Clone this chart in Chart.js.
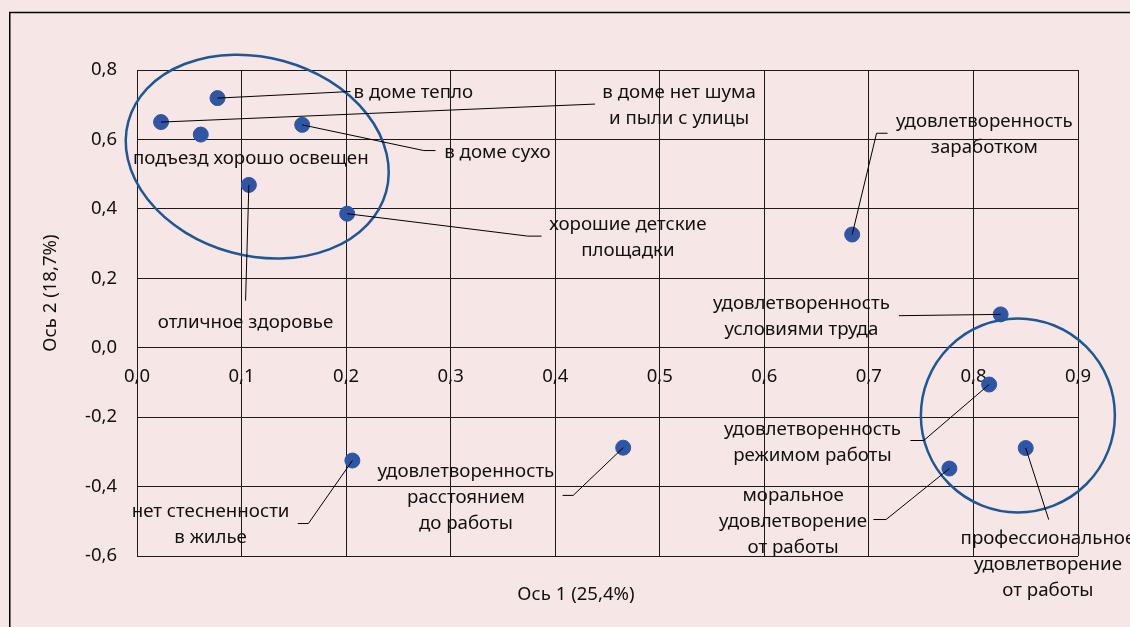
<!DOCTYPE html>
<html lang="ru">
<head>
  <meta charset="UTF-8">
  <title>Ось 1 / Ось 2</title>
  <style>
    body {
      margin: 0;
      background: #f6e6e6;
    }
    canvas {
      display: block;
    }
  </style>
</head>
<body>

  <canvas id="chartCanvas" width="1130" height="627"></canvas>

  <script src="https://cdn.jsdelivr.net/npm/chart.js"></script>

  <script>
    // Данные: координаты признаков по двум осям
    const names = [
      ['в доме тепло'],
      ['в доме нет шума', 'и пыли с улицы'],
      ['подъезд хорошо освещен'],
      ['в доме сухо'],
      ['отличное здоровье'],
      ['хорошие детские', 'площадки'],
      ['удовлетворенность', 'заработком'],
      ['удовлетворенность', 'условиями труда'],
      ['удовлетворенность', 'режимом работы'],
      ['профессиональное', 'удовлетворение', 'от работы'],
      ['моральное', 'удовлетворение', 'от работы'],
      ['удовлетворенность', 'расстоянием', 'до работы'],
      ['нет стесненности', 'в жилье']
    ];
    const axis1 = [0.077, 0.023, 0.061, 0.158, 0.107, 0.201, 0.684, 0.826, 0.815, 0.850, 0.777, 0.465, 0.206];
    const axis2 = [0.719, 0.650, 0.614, 0.642, 0.469, 0.386, 0.326, 0.096, -0.106, -0.289, -0.348, -0.288, -0.325];

    const xTicks = [0, 0.1, 0.2, 0.3, 0.4, 0.5, 0.6, 0.7, 0.8, 0.9];
    const yTicks = [-0.6, -0.4, -0.2, 0, 0.2, 0.4, 0.6, 0.8];
    const xTitle = 'Ось 1 (25,4%)';
    const yTitle = 'Ось 2 (18,7%)';

    // Подписи: смещения в пикселях от точки (текст и выноска)
    const calloutLayout = [
      { text: [136, -5], align: 'left', path: [[133, -6.6]] },
      { text: [518, -29], align: 'center', path: [[434, -18]] },
      { text: [50, 24], align: 'center', path: [] },
      { text: [142, 27.7], align: 'left', path: [[121.6, 25.7], [133.3, 25.7]] },
      { text: [-3.3, 137.7], align: 'center', path: [[-3.3, 115.7]] },
      { text: [280.7, 11], align: 'center', path: [[180.7, 22.4], [194.4, 22.4]] },
      { text: [132.2, -113.3], align: 'center', path: [[24.4, -101.3], [35.4, -101.3]] },
      { text: [-199.2, -11], align: 'center', path: [[-101.7, 1.3]] },
      { text: [-176.7, 45], align: 'center', path: [[-65.4, 56], [-78.7, 56]] },
      { text: [22.2, 90.6], align: 'center', path: [[23, 71.6]] },
      { text: [-156.3, 26.7], align: 'center', path: [[-63.3, 51], [-76, 51]] },
      { text: [-157.3, 24.4], align: 'center', path: [[-50, 47.7], [-60.6, 47.7]] },
      { text: [-141.8, 51.4], align: 'center', path: [[-44, 63], [-54.6, 63]] }
    ];

    // Эллипсы: центр в единицах осей, полуоси в пикселях
    const groups = [
      { x: 0.115, y: 0.5505, rx: 133.6, ry: 99.2, angle: 15.3 },
      { x: 0.8425, y: -0.195, rx: 97, ry: 97, angle: 0 }
    ];

    const fmt = v => v.toFixed(1).replace('.', ',');
    const FONT = '"Noto Sans", sans-serif';
    const LINE_H = 26;

    const callouts = {
      id: 'callouts',
      beforeDraw(chart) {
        const ctx = chart.ctx;
        ctx.save();
        ctx.strokeStyle = '#000';
        ctx.lineWidth = 1.5;
        ctx.strokeRect(9.75, 12.5, 1300, 800);
        ctx.restore();
      },
      afterDatasetsDraw(chart) {
        const ctx = chart.ctx;
        const xs = chart.scales.x, ys = chart.scales.y;
        const pts = chart.getDatasetMeta(0).data;
        ctx.save();

        // эллипсы
        ctx.strokeStyle = '#1f5796';
        ctx.lineWidth = 2.5;
        groups.forEach(g => {
          ctx.beginPath();
          ctx.ellipse(xs.getPixelForValue(g.x), ys.getPixelForValue(g.y), g.rx, g.ry,
            g.angle * Math.PI / 180, 0, Math.PI * 2);
          ctx.stroke();
        });

        // выноски
        ctx.strokeStyle = '#000';
        ctx.lineWidth = 1;
        pts.forEach((p, i) => {
          const path = calloutLayout[i].path;
          if (!path.length) return;
          ctx.beginPath();
          ctx.moveTo(p.x, p.y);
          path.forEach(([dx, dy]) => ctx.lineTo(p.x + dx, p.y + dy));
          ctx.stroke();
        });

        // подписи
        ctx.fillStyle = '#111';
        ctx.font = '18.7px ' + FONT;
        ctx.textBaseline = 'middle';
        pts.forEach((p, i) => {
          const l = calloutLayout[i];
          ctx.textAlign = l.align;
          names[i].forEach((line, k) => {
            ctx.fillText(line, p.x + l.text[0], p.y + l.text[1] + k * LINE_H);
          });
        });

        // названия осей
        ctx.font = '18.6px ' + FONT;
        ctx.textAlign = 'center';
        ctx.fillText(xTitle, 576, 595);
        ctx.translate(51, 293);
        ctx.rotate(-Math.PI / 2);
        ctx.fillText(yTitle, 0, 0);
        ctx.restore();
      }
    };

    const ctx = document.getElementById('chartCanvas').getContext('2d');
    new Chart(ctx, {
      type: 'scatter',
      data: {
        datasets: [{
          data: axis1.map((x, i) => ({ x: x, y: axis2[i] })),
          backgroundColor: '#2f55a5',
          borderColor: '#2f55a5',
          pointRadius: 7.5,
          pointHoverRadius: 7.5
        }]
      },
      options: {
        responsive: false,
        animation: false,
        events: [],
        layout: { padding: { left: 0, right: 52, top: 70, bottom: 71 } },
        plugins: {
          legend: { display: false },
          tooltip: { enabled: false }
        },
        scales: {
          x: {
            type: 'linear',
            position: { y: 0 },
            min: 0,
            max: 0.9,
            afterBuildTicks: s => { s.ticks = xTicks.map(v => ({ value: v })); },
            grid: { color: '#1a1a1a', lineWidth: 1, drawTicks: false },
            border: { color: '#1a1a1a', width: 1 },
            ticks: {
              padding: 18,
              color: '#111',
              font: { family: FONT, size: 18.5 },
              maxRotation: 0,
              autoSkip: false,
              callback: v => fmt(v)
            }
          },
          y: {
            type: 'linear',
            position: 'left',
            min: -0.6,
            max: 0.8,
            afterBuildTicks: s => { s.ticks = yTicks.map(v => ({ value: v })); },
            afterFit: s => { s.width = 137; },
            grid: { color: '#1a1a1a', lineWidth: 1, drawTicks: false },
            border: { color: '#1a1a1a', width: 1 },
            ticks: {
              padding: 20,
              color: '#111',
              font: { family: FONT, size: 18.5 },
              autoSkip: false,
              callback: v => fmt(v)
            }
          }
        }
      },
      plugins: [callouts]
    });
  </script>

</body>
</html>
